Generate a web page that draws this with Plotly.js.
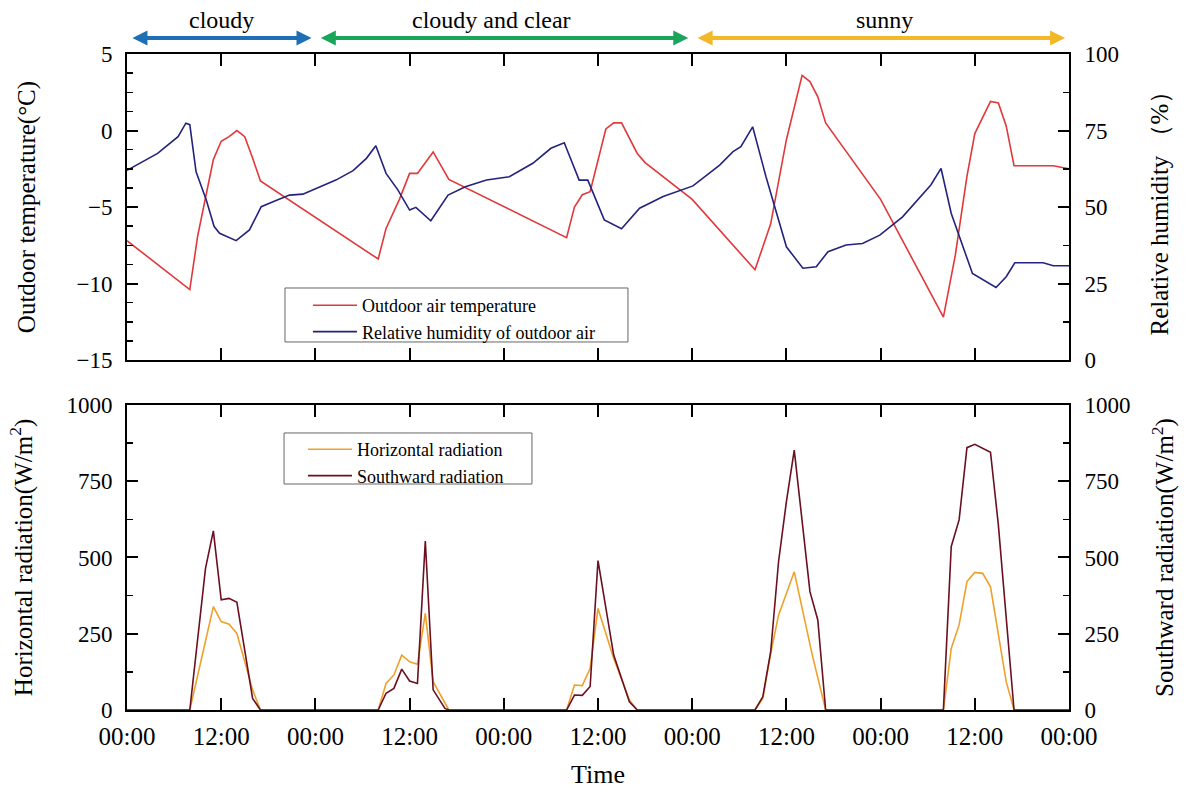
<!DOCTYPE html>
<html>
<head>
<meta charset="utf-8">
<script src="https://cdn.plot.ly/plotly-3.0.1.min.js"></script>
<style>html,body{margin:0;padding:0;background:#fff;}#chart{width:1189px;height:792px;}</style>
</head>
<body>
<div id="chart"></div>
<script>
// ---- data (hours from start) ----
const tempHours = [0, 8, 9, 10, 11, 12, 13, 14, 15, 16, 17, 32, 33, 34.7, 36, 37, 39, 41, 43, 56, 57, 58, 59, 61, 62, 63, 65, 66, 72, 80, 82, 84, 86, 87, 88, 89, 96, 104, 105.5, 107, 108, 110, 111, 112, 113, 118, 120];
const tempValues = [-7.2, -10.4, -6.9, -4.5, -1.9, -0.7, -0.4, 0, -0.4, -1.8, -3.3, -8.4, -6.4, -4.5, -2.8, -2.8, -1.4, -3.2, -3.7, -7.0, -5.0, -4.2, -4.0, 0.1, 0.5, 0.5, -1.5, -2.1, -4.5, -9.1, -6.1, -0.6, 3.6, 3.2, 2.2, 0.5, -4.5, -12.2, -8.2, -3.0, -0.2, 1.9, 1.8, 0.3, -2.3, -2.3, -2.5];

const rhHours = [0, 1.6, 3.9, 6.5, 7.5, 8, 8.8, 10.1, 11.1, 11.8, 13.9, 15.6, 17.1, 18.6, 20.7, 22.4, 24.1, 26.6, 28.8, 30.5, 31.7, 33, 34.5, 36, 36.8, 38.7, 40.9, 43.1, 45.8, 48.7, 51.7, 54, 55.7, 57.6, 58.7, 60.8, 63, 65.3, 68.3, 72.1, 75.5, 77.2, 78.2, 79.7, 81.4, 84, 86.1, 87.8, 89.3, 91.6, 93.7, 95.9, 98.8, 102.4, 103.7, 105, 107.7, 110.7, 112, 113.1, 116.7, 118, 120];
const rhValues = [62, 64.3, 67.5, 73, 77.4, 76.9, 61.5, 52.3, 43.6, 41.4, 39.0, 42.5, 50.1, 51.7, 53.9, 54.2, 56.1, 58.8, 61.9, 65.9, 70.0, 61, 55.6, 49.0, 49.9, 45.5, 53.9, 56.6, 58.8, 59.9, 64.3, 69.2, 71, 58.8, 58.8, 45.8, 42.9, 49.6, 53.4, 56.9, 63.7, 68.1, 69.7, 76.2, 59.9, 37, 30, 30.5, 35.4, 37.6, 38.1, 40.8, 46.8, 57.2, 62.6, 47.9, 28.3, 23.7, 27.2, 31.8, 31.8, 30.8, 30.8];

const horizHours = [0, 8, 11, 12, 13, 14, 16, 17, 32, 33, 34, 35, 36, 37, 38, 39, 41, 56, 57, 58, 59, 60, 62, 64, 65, 80, 81, 82, 83, 85, 87.3, 89, 104, 105, 106, 107, 108, 109, 110, 112, 113, 120];
const horizValues = [0, 0, 339, 290, 281, 251, 66, 0, 0, 87, 115, 180, 158, 150, 317, 93, 0, 0, 82, 80, 137, 333, 169, 33, 0, 0, 38, 186, 311, 453, 180, 0, 0, 202, 279, 421, 451, 448, 404, 93, 0, 0];

const southHours = [0, 8, 10, 11, 12, 13, 14, 16, 17, 32, 33, 34, 35, 36, 37, 38, 39, 40.5, 41, 56, 57, 58, 59, 60, 62, 64, 65, 80, 81, 82, 83, 84, 85, 87, 88, 89, 104, 105, 106, 107, 108, 110, 111, 113, 120];
const southValues = [0, 0, 464, 587, 361, 366, 353, 38, 0, 0, 55, 71, 134, 95, 87, 554, 66, 5, 0, 0, 49, 48, 77, 490, 180, 27, 0, 0, 44, 191, 486, 683, 852, 388, 295, 0, 0, 536, 623, 860, 871, 845, 607, 0, 0];

const timeTickVals = [0, 12, 24, 36, 48, 60, 72, 84, 96, 108, 120];
const timeTickText = ['00:00', '12:00', '00:00', '12:00', '00:00', '12:00', '00:00', '12:00', '00:00', '12:00', '00:00'];

const weatherLabels = ['cloudy', 'cloudy and clear', 'sunny'];
const weatherLabelHours = [12, 46.4, 96.5];
const weatherStart = [0, 24, 72];
const weatherEnd = [24, 72, 120];
const weatherColors = ['#1f6fb4', '#1aa55b', '#f2b828'];

// ---- styling ----
const FONT = 'Liberation Serif';
const axisCommon = {
  showline: true, linecolor: '#000', linewidth: 2,
  ticks: 'inside', ticklen: 11, tickwidth: 2, tickcolor: '#000',
  showgrid: false, zeroline: false,
  tickfont: {family: FONT, size: 23, color: '#000'}
};
const minorTicks = (d) => ({dtick: d, ticks: 'inside', ticklen: 6, tickwidth: 1.5, tickcolor: '#000'});

const traces = [
  {x: tempHours, y: tempValues, name: 'Outdoor air temperature', type: 'scatter', mode: 'lines',
   line: {color: '#e0383b', width: 1.6}, xaxis: 'x', yaxis: 'y', legend: 'legend'},
  {x: rhHours, y: rhValues, name: 'Relative humidity of outdoor air', type: 'scatter', mode: 'lines',
   line: {color: '#23237e', width: 1.6}, xaxis: 'x', yaxis: 'y2', legend: 'legend'},
  {x: horizHours, y: horizValues, name: 'Horizontal radiation', type: 'scatter', mode: 'lines',
   line: {color: '#eea12a', width: 1.6}, xaxis: 'x2', yaxis: 'y3', legend: 'legend2'},
  {x: southHours, y: southValues, name: 'Southward radiation', type: 'scatter', mode: 'lines',
   line: {color: '#6a1020', width: 1.6}, xaxis: 'x2', yaxis: 'y4', legend: 'legend2'}
];

const annotations = [];
for (let i = 0; i < weatherLabels.length; i++) {
  annotations.push({
    xref: 'x', yref: 'paper', axref: 'x', ayref: 'pixel',
    x: weatherEnd[i] - 0.5, ax: weatherStart[i] + 0.5, y: 1.0244, ay: 0,
    showarrow: true, arrowside: 'end+start', arrowhead: 2, startarrowhead: 2,
    arrowsize: 0.75, startarrowsize: 0.75, arrowwidth: 4, arrowcolor: weatherColors[i], text: ''
  });
  annotations.push({
    xref: 'x', yref: 'paper', x: weatherLabelHours[i], y: 1.052,
    text: weatherLabels[i], showarrow: false, yanchor: 'middle',
    font: {family: FONT, size: 24, color: '#000'}
  });
}

const legendBox = {type: 'rect', xref: 'paper', yref: 'paper', line: {color: '#666', width: 1}, fillcolor: 'rgba(0,0,0,0)', layer: 'above'};

const layout = {
  width: 1189, height: 792,
  margin: {l: 127, r: 120, t: 54, b: 82},
  paper_bgcolor: '#fff', plot_bgcolor: '#fff',
  font: {family: FONT, color: '#000'},
  showlegend: true,
  xaxis: Object.assign({}, axisCommon, {
    domain: [0, 1], anchor: 'y', range: [0, 120], tickvals: timeTickVals, ticktext: timeTickText,
    showticklabels: false, mirror: 'ticks', ticklen: 12
  }),
  xaxis2: Object.assign({}, axisCommon, {
    domain: [0, 1], anchor: 'y3', range: [0, 120], tickvals: timeTickVals, ticktext: timeTickText,
    mirror: 'ticks', ticklen: 12, ticklabelstandoff: 3, tickfont: {family: FONT, size: 25, color: '#000'},
    title: {text: 'Time', font: {family: FONT, size: 26, color: '#000'}, standoff: 16}
  }),
  yaxis: Object.assign({}, axisCommon, {
    domain: [0.5335, 1], anchor: 'x', range: [-15, 5], dtick: 5, tick0: 0, ticklabelstandoff: 8,
    minor: minorTicks(1.25),
    title: {text: 'Outdoor temperature(°C)', font: {family: FONT, size: 25, color: '#000'}, standoff: 34}
  }),
  yaxis2: Object.assign({}, axisCommon, {
    overlaying: 'y', side: 'right', anchor: 'x', range: [0, 100], dtick: 25, tick0: 0, ticklabelstandoff: 9,
    minor: minorTicks(12.5),
    title: {text: 'Relative humidity （%）', font: {family: FONT, size: 25, color: '#000'}, standoff: 32}
  }),
  yaxis3: Object.assign({}, axisCommon, {
    domain: [0, 0.465], anchor: 'x2', range: [0, 1000], dtick: 250, tick0: 0, ticklabelstandoff: 8,
    minor: minorTicks(125),
    title: {text: 'Horizontal radiation(W/m<sup>2</sup>)', font: {family: FONT, size: 25, color: '#000'}, standoff: 27}
  }),
  yaxis4: Object.assign({}, axisCommon, {
    overlaying: 'y3', side: 'right', anchor: 'x2', range: [0, 1000], dtick: 250, tick0: 0, ticklabelstandoff: 9,
    minor: minorTicks(125),
    title: {text: 'Southward radiation(W/m<sup>2</sup>)', font: {family: FONT, size: 25, color: '#000'}, standoff: 26}
  }),
  legend: {
    x: 0.1921, y: 0.6448, xanchor: 'left', yanchor: 'top',
    bgcolor: 'rgba(0,0,0,0)', borderwidth: 0,
    font: {family: FONT, size: 18, color: '#000'}, tracegroupgap: 0, itemwidth: 44
  },
  legend2: {
    x: 0.1868, y: 0.4253, xanchor: 'left', yanchor: 'top',
    bgcolor: 'rgba(0,0,0,0)', borderwidth: 0,
    font: {family: FONT, size: 18, color: '#000'}, tracegroupgap: 0, itemwidth: 44
  },
  shapes: [
    Object.assign({}, legendBox, {x0: 0.1677, x1: 0.5318, y0: 0.561, y1: 0.6433}),
    Object.assign({}, legendBox, {x0: 0.1667, x1: 0.4299, y0: 0.3445, y1: 0.4223})
  ],
  annotations: annotations
};

Plotly.newPlot('chart', traces, layout, {displayModeBar: false, staticPlot: true});
</script>
</body>
</html>
